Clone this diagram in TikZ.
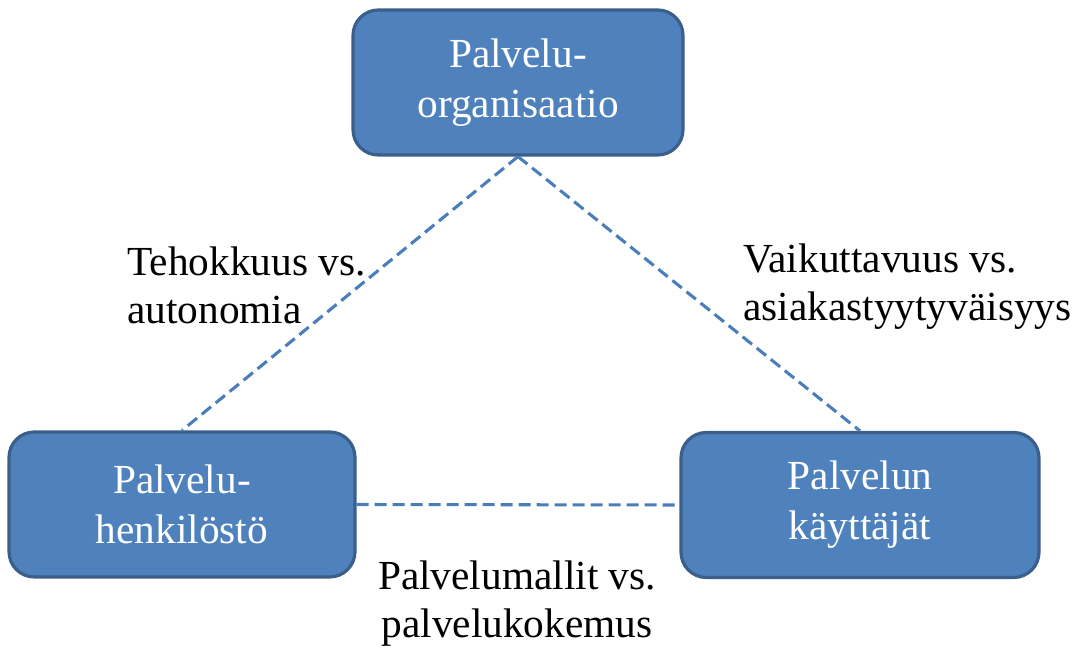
\documentclass[tikz,border=0pt]{standalone}
\usepackage{fontspec}
\setmainfont{Liberation Serif}
\definecolor{boxfill}{HTML}{4F81BD}
\definecolor{boxline}{HTML}{3A5F8B}
\definecolor{dashcol}{HTML}{4A7EBB}
\begin{document}
\begin{tikzpicture}[x=0.75pt,y=-0.75pt,
  actor/.style={draw=boxline, line width=2.4pt, fill=boxfill, rounded corners=19pt,
    text=white, align=center, inner sep=0pt,
    minimum height=108.75pt,
    font=\fontsize{31}{37.5}\selectfont},
  tradeofflabel/.style={text=black, inner sep=0pt, font=\fontsize{31}{36}\selectfont},
  link/.style={draw=dashcol, line width=2.3pt, dash pattern=on 9pt off 4.5pt}]
\useasboundingbox (0,0) rectangle (1086,648);
\node[actor, minimum width=247.5pt] (org) at (518,82.5) {Palvelu-\\organisaatio};
\node[actor, minimum width=259.5pt] (staff) at (182,504.5) {Palvelu-\\henkilöstö};
\node[actor, minimum width=268.5pt] (users) at (860,505) {Palvelun\\käyttäjät};
\draw[link] (org.south) -- (staff.north);
\draw[link] (org.south) -- (users.north);
\draw[link] (staff.east) -- (users.west);
\node[tradeofflabel, align=left, anchor=west] (t1) at (127,285) {Tehokkuus vs.\\autonomia};
\node[tradeofflabel, align=left, anchor=west] (t2) at (743,287) {Vaikuttavuus vs.\\asiakastyytyväisyys};
\node[tradeofflabel, align=center, anchor=center] (t3) at (517,604) {Palvelumallit vs.\\palvelukokemus};
\end{tikzpicture}
\end{document}
